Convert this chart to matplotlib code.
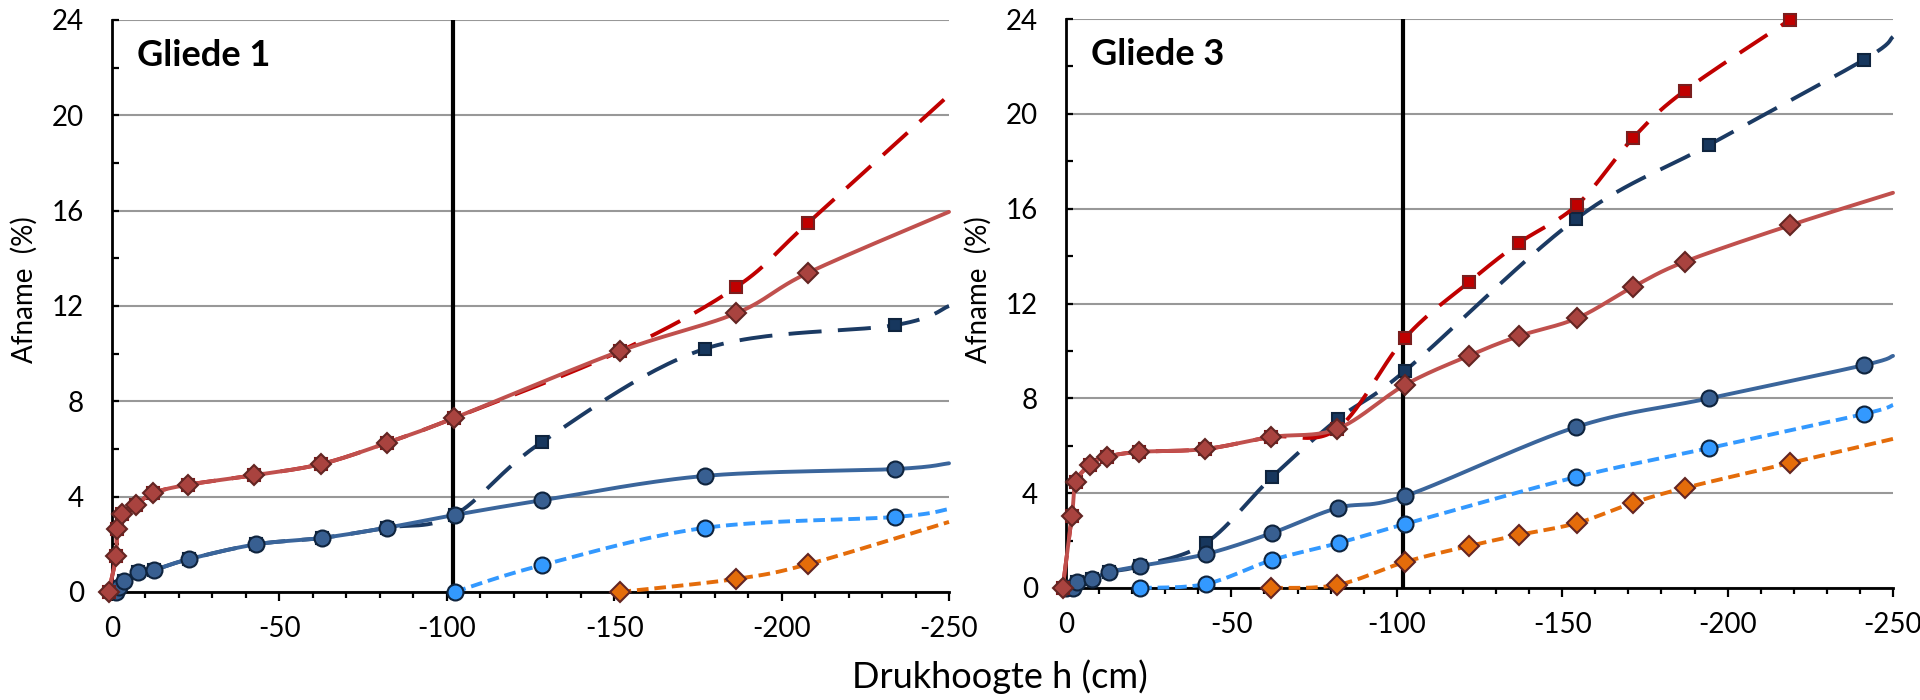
import numpy as np
import matplotlib
matplotlib.use("Agg")
import matplotlib.pyplot as plt
from matplotlib.ticker import MultipleLocator

plt.rcParams['font.family'] = ['Lato', 'DejaVu Sans']

# ---------------- data: Gliede 1 ----------------
g1_h_diam = [1, -1.2, -1.5, -3, -7.2, -12.3, -22.6, -42.5, -62.5, -82, -102.2, -151.6, -186.5, -208]
g1_red_solid = [0, 1.5, 2.64, 3.27, 3.65, 4.15, 4.5, 4.9, 5.37, 6.25, 7.3, 10.1, 11.7, 13.4]
g1_red_solid_end = 15.95
g1_red_dash = [0, 1.5, 2.64, 3.27, 3.65, 4.15, 4.5, 4.9, 5.37, 6.25, 7.3, 10.1, 12.8, 15.5]
g1_red_dash_end = 20.85
g1_h_circ = [-1.3, -2.1, -3.5, -7.8, -12.6, -23, -43, -62.8, -82.2, -102.3, -128.5, -177, -234]
g1_blue_solid = [0, 0.2, 0.45, 0.84, 0.93, 1.38, 2.0, 2.27, 2.7, 3.23, 3.85, 4.87, 5.16]
g1_blue_solid_end = 5.4
g1_navy_dash = [0, 0.2, 0.45, 0.84, 0.93, 1.38, 2.0, 2.27, 2.7, 3.23, 6.3, 10.2, 11.2]
g1_navy_dash_end = 12.0
g1_h_light = [-102.3, -128.5, -177, -234]
g1_light = [0, 1.13, 2.69, 3.15]
g1_light_end = 3.48
g1_h_orange = [-151.6, -186.5, -208]
g1_orange = [0, 0.55, 1.17]
g1_orange_end = 2.94

# ---------------- data: Gliede 3 ----------------
g3_h_diam = [1, -1.8, -3, -7.3, -12.4, -22, -42, -62, -82, -102.5, -121.8, -137, -154.5, -171.4, -187, -218.9]
g3_red_solid = [0, 3.04, 4.47, 5.19, 5.53, 5.74, 5.86, 6.37, 6.71, 8.57, 9.8, 10.63, 11.38, 12.7, 13.76, 15.3]
g3_red_solid_end = 16.67
g3_red_dash = [0, 3.04, 4.47, 5.19, 5.53, 5.74, 5.86, 6.37, 6.71, 10.55, 12.9, 14.56, 16.16, 18.98, 20.97, 23.97]
g3_h_circ = [0, -2.1, -3.3, -7.9, -13, -22.4, -42.3, -62.3, -82.2, -102.5, -154.2, -194.4, -241.2]
g3_blue_solid = [0, 0, 0.25, 0.38, 0.67, 0.93, 1.43, 2.32, 3.38, 3.88, 6.79, 8.0, 9.4]
g3_blue_solid_end = 9.79
g3_navy_dash = [0, 0, 0.25, 0.38, 0.67, 0.93, 1.9, 4.68, 7.13, 9.16, 15.57, 18.69, 22.28]
g3_navy_dash_end = 23.25
g3_h_light = [-22.4, -42.3, -62.3, -82.5, -102.5, -154.2, -194.4, -241.2]
g3_light = [0, 0.17, 1.18, 1.9, 2.7, 4.68, 5.9, 7.34]
g3_light_end = 7.72
g3_h_orange = [-62, -82, -102.5, -121.8, -137, -154.5, -171.4, -187, -218.9]
g3_orange = [0, 0.13, 1.1, 1.77, 2.24, 2.74, 3.59, 4.22, 5.27]
g3_orange_end = 6.29

h_edge = -250
h_vline = -102
x_ticks = [0, -50, -100, -150, -200, -250]
y_ticks = [0, 4, 8, 12, 16, 20, 24]


def smooth(x, y, n=30):
    P = np.column_stack([x, y]).astype(float)
    if len(P) < 3:
        return P[:, 0], P[:, 1]
    out = [P[0]]
    t = np.linspace(0, 1, n)[1:, None]
    for i in range(len(P) - 1):
        p0 = P[i - 1] if i > 0 else P[i]
        p1, p2 = P[i], P[i + 1]
        p3 = P[i + 2] if i + 2 < len(P) else P[i + 1]
        c1 = p1 + (p2 - p0) / 6.0
        c2 = p2 - (p3 - p1) / 6.0
        seg = (1 - t) ** 3 * p1 + 3 * (1 - t) ** 2 * t * c1 + 3 * (1 - t) * t ** 2 * c2 + t ** 3 * p2
        out.extend(seg)
    out = np.array(out)
    return out[:, 0], out[:, 1]


def series(ax, h, v, end, color, dashes, marker, ms, mfc, mec, z):
    hh = list(h) + ([h_edge] if end is not None else [])
    vv = list(v) + ([end] if end is not None else [])
    sx, sy = smooth(hh, vv)
    kw = dict(color=color, lw=2.8, zorder=z, clip_on=False, solid_capstyle='round')
    if dashes is not None:
        kw['dashes'] = dashes
        kw['dash_capstyle'] = 'butt'
    ax.plot(sx, sy, **kw)
    ax.plot(h, v, ls='none', marker=marker, ms=ms, mfc=mfc, mec=mec, mew=1.5,
            zorder=z + 0.5, clip_on=False)


RED_L = '#C0504D'; RED_F = '#A9433F'; MAROON = '#632523'
DRED = '#C00000'
NAVY = '#1B3A63'; NAVY_F = '#17375E'; EDGE_B = '#0F243E'
BLUE = '#3A659B'; BLUE_F = '#385F91'
LBLUE = '#3399FF'
ORANGE = '#E46C0A'

LONG = (8.5, 4.2)
SHORT = (3.0, 1.5)

MS_D = 10.5
MS_O = 11.5
MS_S = 9.0

fig = plt.figure(figsize=(19.2, 7), dpi=100)
ax1 = fig.add_axes([112 / 1920, 108 / 700, 837 / 1920, 572 / 700])
ax2 = fig.add_axes([1066 / 1920, 112 / 700, 827 / 1920, 569 / 700])

panels = [
    (ax1, 'Gliede 1', dict(
        diam=(g1_h_diam, g1_red_solid, g1_red_solid_end, g1_red_dash, g1_red_dash_end),
        circ=(g1_h_circ, g1_blue_solid, g1_blue_solid_end, g1_navy_dash, g1_navy_dash_end),
        light=(g1_h_light, g1_light, g1_light_end),
        orange=(g1_h_orange, g1_orange, g1_orange_end))),
    (ax2, 'Gliede 3', dict(
        diam=(g3_h_diam, g3_red_solid, g3_red_solid_end, g3_red_dash, None),
        circ=(g3_h_circ, g3_blue_solid, g3_blue_solid_end, g3_navy_dash, g3_navy_dash_end),
        light=(g3_h_light, g3_light, g3_light_end),
        orange=(g3_h_orange, g3_orange, g3_orange_end))),
]

for ax, title, d in panels:
    ax.set_xlim(0, -250)
    ax.set_ylim(0, 24)
    ax.set_xticks(x_ticks)
    ax.set_yticks(y_ticks)
    ax.xaxis.set_minor_locator(MultipleLocator(10))
    ax.yaxis.set_minor_locator(MultipleLocator(2))
    ax.set_xticklabels([str(t) for t in x_ticks])
    ax.grid(axis='y', which='major', color='#989898', lw=1.5, zorder=0)
    ax.set_axisbelow(True)
    for s in ['top', 'right']:
        ax.spines[s].set_visible(False)
    for s in ['left', 'bottom']:
        ax.spines[s].set_linewidth(2.0)
        ax.spines[s].set_color('black')
        ax.spines[s].set_zorder(3)
    ax.tick_params(axis='x', which='major', direction='out', length=6.5, width=1.6,
                   labelsize=20, pad=11)
    ax.tick_params(axis='x', which='minor', direction='out', length=4.3, width=1.6)
    ax.tick_params(axis='y', which='major', direction='in', length=5, width=1.6,
                   labelsize=20, pad=20)
    ax.tick_params(axis='y', which='minor', direction='in', length=5, width=1.6)

    ax.axvline(h_vline, color='black', lw=3.0, zorder=2)

    hd, rs, rse, rd, rde = d['diam']
    hc, bs, bse, nd, nde = d['circ']
    hl, lv, le = d['light']
    ho, ov, oe = d['orange']

    series(ax, hc, nd, nde, NAVY, LONG, 's', MS_S, NAVY_F, EDGE_B, 4)
    series(ax, hc, bs, bse, BLUE, None, 'o', MS_O, BLUE_F, EDGE_B, 5)
    series(ax, hd, rd, rde, DRED, LONG, 's', MS_S, DRED, '#7A1E1E', 6)
    series(ax, hd, rs, rse, RED_L, None, 'D', MS_D, RED_F, MAROON, 7)
    series(ax, hl, lv, le, LBLUE, SHORT, 'o', MS_O, LBLUE, EDGE_B, 8)
    series(ax, ho, ov, oe, ORANGE, SHORT, 'D', MS_D, ORANGE, MAROON, 9)

    ax.text(0.03, 0.92, title, transform=ax.transAxes, fontsize=26, fontweight='bold',
            ha='left', va='baseline', zorder=10)

fig.text(24 / 1920, 1 - 290 / 700, 'Afname  (%)', rotation=90, ha='center', va='center', fontsize=20)
fig.text(978 / 1920, 1 - 290 / 700, 'Afname  (%)', rotation=90, ha='center', va='center', fontsize=20)
fig.text(1000 / 1920, 1 - 688 / 700, 'Drukhoogte h (cm)', ha='center', va='baseline', fontsize=26)

fig.savefig('out.png', dpi=100)
